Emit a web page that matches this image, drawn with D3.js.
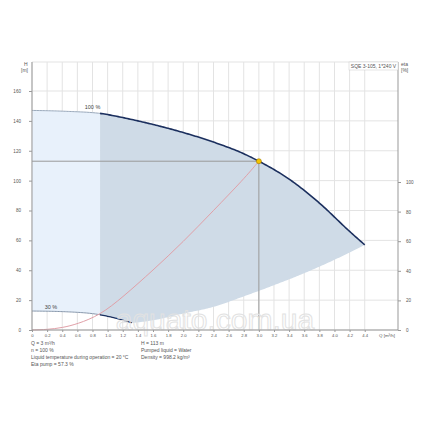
<!DOCTYPE html><html><head><meta charset="utf-8"><script src="https://cdn.jsdelivr.net/npm/d3@7"></script>
<style>body{margin:0;background:#fff}text{font-family:"Liberation Sans",Arial,sans-serif}</style></head><body>
<svg id="c" width="430" height="430"></svg>
<script>
const qTicks=d3.range(0,4.41,0.2).map(v=>+v.toFixed(1));
const hTicks=[0,20,40,60,80,100,120,140,160];
const etaTicks=[0,20,40,60,80,100];
const curve100=[[0,147],[0.45,146.4],[0.9,145],[1.2,142.2],[1.6,137.6],[2.0,132.2],[2.4,125.8],[2.8,118],[3.0,113],[3.4,101],[3.8,85],[4.2,66],[4.4,57]];
const curve30=[[0,12.7],[0.45,12.2],[0.9,10.2],[1.1,8],[1.33,4.7]];
const lowerBound=[[1.33,4.7],[1.6,6.5],[2.0,11],[2.4,15.5],[2.8,22.5],[3.2,30],[3.6,38],[4.0,47],[4.4,57]];
const sysCurve=[[0,0],[0.2,0.3],[0.4,1.5],[0.6,4],[0.9,10],[1.2,22],[1.6,40],[2.0,59],[2.4,80],[2.8,101],[3.0,113]];
const opQ=3.0, opH=113;
const infoL=["Q = 3 m³/h","n = 100 %","Liquid temperature during operation = 20 °C","Eta pump = 57.3 %"];
const infoR=["H = 113 m","Pumped liquid = Water","Density = 998.2 kg/m³"];

const svg=d3.select("#c");
const x=d3.scaleLinear().domain([0,4.84]).range([32,398]);
const y=d3.scaleLinear().domain([0,160]).range([330,91]);
const ye=d3.scaleLinear().domain([0,100]).range([330,182]);
const yTop=62;
const g=svg.append("g");
qTicks.forEach(q=>g.append("line").attr("x1",x(q)).attr("x2",x(q)).attr("y1",yTop).attr("y2",330).attr("stroke","#e3e3e3"));
hTicks.forEach(h=>g.append("line").attr("x1",32).attr("x2",398).attr("y1",y(h)).attr("y2",y(h)).attr("stroke","#e3e3e3"));
g.append("line").attr("x1",32).attr("x2",398).attr("y1",yTop).attr("y2",yTop).attr("stroke","#e3e3e3");
const line=d3.line().x(d=>x(d[0])).y(d=>y(d[1])).curve(d3.curveMonotoneX);
function sampler(arr){const p=document.createElementNS("http://www.w3.org/2000/svg","path");p.setAttribute("d",line(arr));svg.node().appendChild(p);const L=p.getTotalLength();const pts=[];for(let s=0;s<=L;s+=0.5){const pt=p.getPointAtLength(s);pts.push([x.invert(pt.x),y.invert(pt.y)]);}p.remove();return q=>{for(let i=1;i<pts.length;i++){if(q<=pts[i][0]){const a=pts[i-1],b=pts[i];return b[0]===a[0]?a[1]:a[1]+(b[1]-a[1])*(q-a[0])/(b[0]-a[0]);}}return pts[pts.length-1][1];};}
const f100=sampler(curve100), f30=sampler(curve30), fLow=sampler(lowerBound);
const qs1=d3.range(0,0.9001,0.02);
const light=qs1.map(q=>[q,f100(q)]).concat(qs1.slice().reverse().map(q=>[q,f30(q)]));
g.append("path").attr("d",d3.line().x(d=>x(d[0])).y(d=>y(d[1]))(light)+"Z").attr("fill","#e8f1fb");
const qs2=d3.range(0.9,4.4001,0.02);
const lowerF=q=>q<1.33?f30(q):fLow(q);
const dark=qs2.map(q=>[q,f100(q)]).concat(qs2.slice().reverse().map(q=>[q,lowerF(q)]));
g.append("path").attr("d",d3.line().x(d=>x(d[0])).y(d=>y(d[1]))(dark)+"Z").attr("fill","#cfdbe7");
g.append("line").attr("x1",32).attr("x2",x(opQ)).attr("y1",y(opH)).attr("y2",y(opH)).attr("stroke","#999");
g.append("line").attr("x1",x(opQ)).attr("x2",x(opQ)).attr("y1",y(opH)).attr("y2",330).attr("stroke","#999");
const seg=(f,a,b)=>d3.range(a,b+0.0001,0.02).map(q=>[q,f(q)]);
const lin=d3.line().x(d=>x(d[0])).y(d=>y(d[1]));
g.append("path").attr("d",lin(seg(f100,0,0.9))).attr("fill","none").attr("stroke","#9aa9bb").attr("stroke-width",1);
g.append("path").attr("d",lin(seg(f100,0.9,4.4))).attr("fill","none").attr("stroke","#1b2f5e").attr("stroke-width",1.6);
g.append("path").attr("d",lin(seg(f30,0,0.9))).attr("fill","none").attr("stroke","#8797ab").attr("stroke-width",1);
g.append("path").attr("d",lin(seg(f30,0.9,1.33))).attr("fill","none").attr("stroke","#1b2f5e").attr("stroke-width",1.3);
g.append("path").attr("d",d3.line().x(d=>x(d[0])).y(d=>y(d[1])).curve(d3.curveBasis)(sysCurve)).attr("fill","none").attr("stroke","#e0a0a8").attr("stroke-width",1);
g.append("circle").attr("cx",x(opQ)).attr("cy",y(opH)).attr("r",2.5).attr("fill","#f5c400").attr("stroke","#a07800").attr("stroke-width",0.6);
g.append("text").attr("x",x(0.8)).attr("y",y(148)).attr("font-size",5.5).attr("fill","#444").attr("text-anchor","middle").text("100 %");
g.append("text").attr("x",x(0.25)).attr("y",y(14)).attr("font-size",5.5).attr("fill","#444").attr("text-anchor","middle").text("30 %");
svg.append("text").attr("x",215).attr("y",330).attr("text-anchor","middle").attr("font-size",30).attr("fill","none").attr("stroke","#e2e2e2").attr("stroke-width",1).text("aquato.com.ua");
const axL=svg.append("g").attr("transform","translate(32,0)").call(d3.axisLeft(y).tickValues(hTicks).tickSize(3).tickPadding(8));
axL.select(".domain").attr("d",`M0,${yTop}V330`);
const axR=svg.append("g").attr("transform","translate(398,0)").call(d3.axisRight(ye).tickValues(etaTicks).tickSize(3).tickPadding(5));
axR.select(".domain").attr("d",`M0,${yTop}V330`);
const axB=svg.append("g").attr("transform","translate(0,330)").call(d3.axisBottom(x).tickValues(qTicks).tickFormat(d=>d===0?"0":d3.format(".1f")(d)).tickSize(2).tickPadding(2));
axB.select(".domain").attr("d","M32,0H398");
[axL,axR,axB].forEach(a=>{a.selectAll("text").attr("font-size",4.6).attr("fill","#555");a.selectAll("line,.domain").attr("stroke","#999");});
axB.selectAll("text").attr("font-size",4.2);
svg.append("text").attr("x",387).attr("y",337).attr("font-size",4.4).attr("fill","#555").attr("text-anchor","middle").text("Q [m³/h]");
svg.append("text").attr("x",24).attr("y",66).attr("font-size",5).attr("fill","#555").text("H");
svg.append("text").attr("x",21).attr("y",72).attr("font-size",5).attr("fill","#555").text("[m]");
svg.append("text").attr("x",401).attr("y",66).attr("font-size",5).attr("fill","#555").text("eta");
svg.append("text").attr("x",401).attr("y",72).attr("font-size",5).attr("fill","#555").text("[%]");
svg.append("rect").attr("x",349).attr("y",62).attr("width",49).attr("height",8).attr("fill","#fff").attr("stroke","#ccc").attr("stroke-width",0.5);
svg.append("text").attr("x",373.5).attr("y",68).attr("font-size",5).attr("fill","#555").attr("text-anchor","middle").text("SQE 3-105, 1*240 V");
infoL.forEach((t,i)=>svg.append("text").attr("x",31).attr("y",345+i*7).attr("font-size",5).attr("fill","#555").text(t));
infoR.forEach((t,i)=>svg.append("text").attr("x",141).attr("y",345+i*7).attr("font-size",5).attr("fill","#555").text(t));
</script></body></html>
